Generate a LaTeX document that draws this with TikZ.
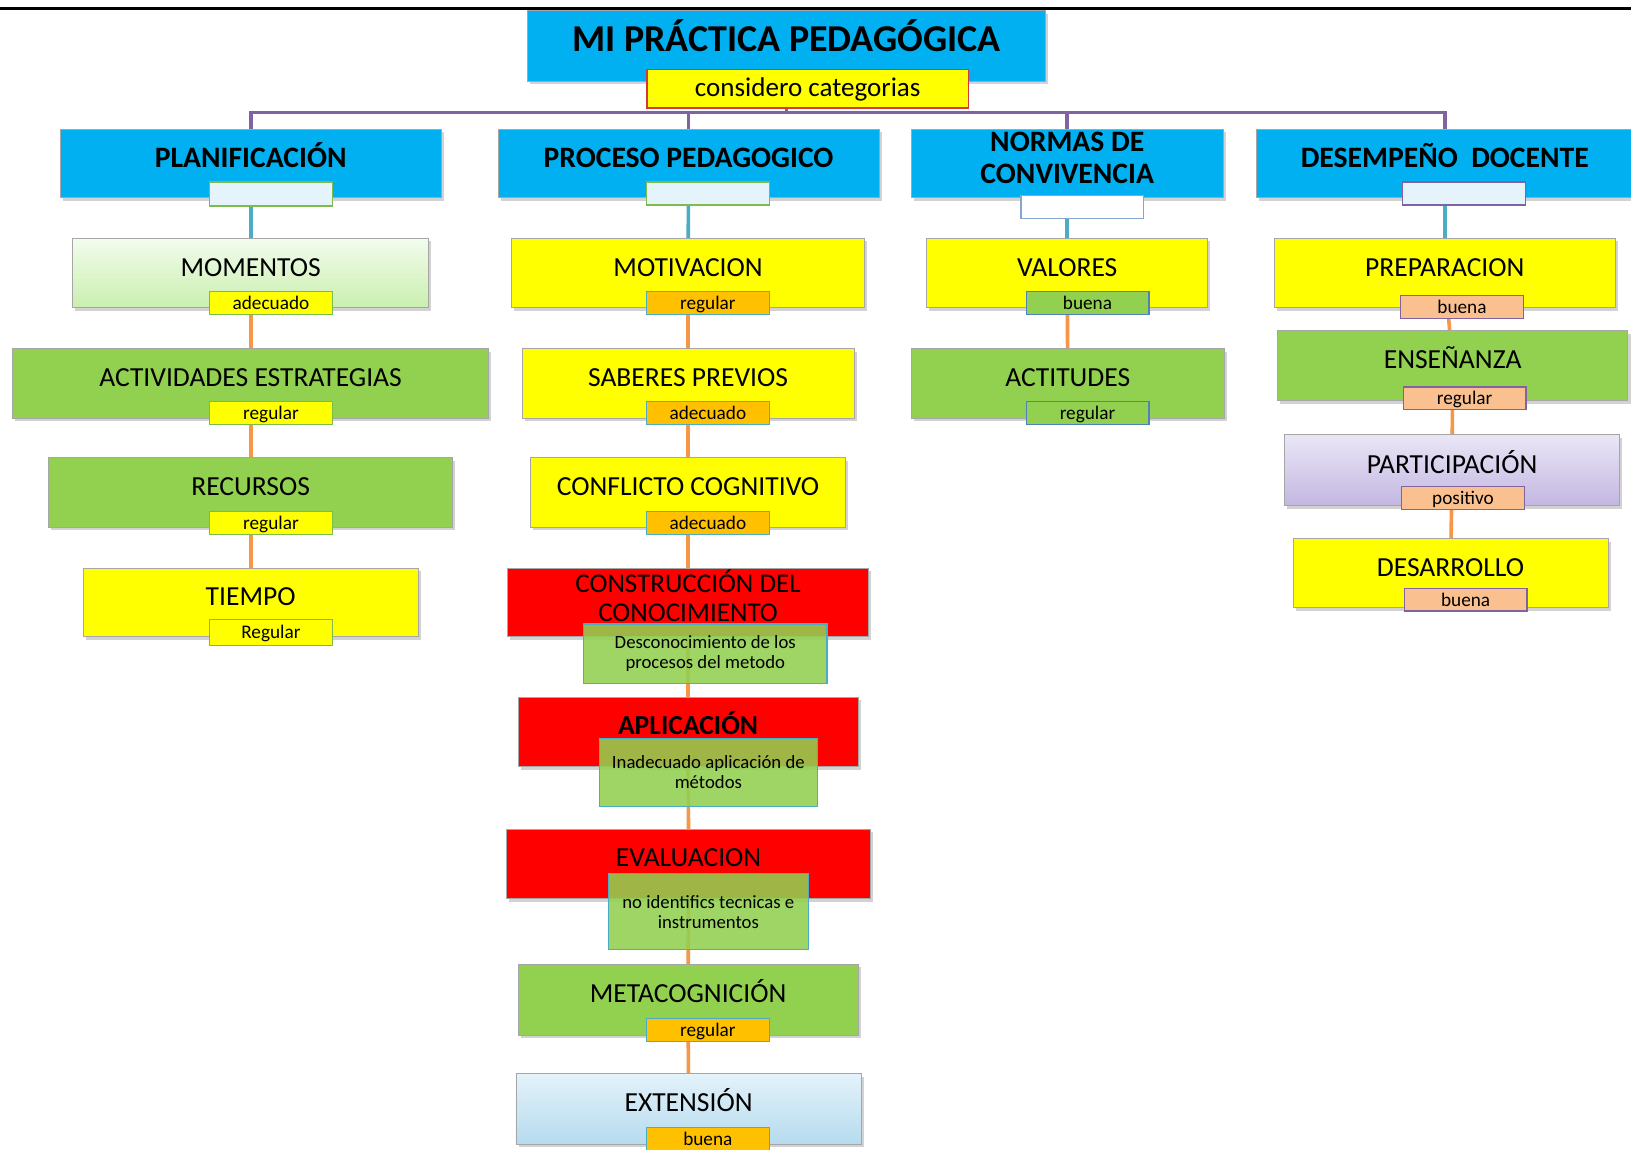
\documentclass[tikz,border=0pt]{standalone}
\usepackage{fontspec}
\setmainfont{Carlito}
\usetikzlibrary{shadows}
\pgfdeclarelayer{bg}
\pgfsetlayers{bg,main}
\definecolor{cblue}{HTML}{00B0F0}
\definecolor{cyel}{HTML}{FFFF00}
\definecolor{cgreen}{HTML}{92D050}
\definecolor{cred}{HTML}{FF0000}
\definecolor{corange}{HTML}{F79646}
\definecolor{cpurple}{HTML}{8064A2}
\definecolor{cteal}{HTML}{4BACC6}
\definecolor{camber}{HTML}{FFC000}
\definecolor{cpeach}{HTML}{FAC090}
\definecolor{cpale}{HTML}{E5F4FB}
\definecolor{cdblue}{HTML}{4F81BD}
\definecolor{cgbord}{HTML}{7DBB4C}
\definecolor{ccatbord}{HTML}{D23A3A}
\definecolor{mtop}{HTML}{F3FCEE}
\definecolor{mbot}{HTML}{C9EFAE}
\definecolor{etop}{HTML}{E4F2FA}
\definecolor{ebot}{HTML}{B5DBEE}
\definecolor{ptop}{HTML}{EAE6F6}
\definecolor{pbot}{HTML}{C3B7E1}
\begin{document}
\begin{tikzpicture}[x=1pt,y=-1pt,
  box/.style={draw=black!35, line width=0.8pt, drop shadow={shadow xshift=2.5pt,shadow yshift=-3pt,opacity=.35}, minimum height=67pt, inner sep=0pt, font=\fontsize{26.5}{30}\selectfont, text height=17.5pt, text depth=11.5pt},
  hdr/.style={box, fill=cblue, font=\bfseries\fontsize{28.5}{31}\selectfont, text height=18pt, text depth=10pt, minimum height=66pt},
  hdrtxt/.style={font=\bfseries\fontsize{28.5}{31}\selectfont, align=center, inner sep=0pt},
  boxtxt/.style={font=\fontsize{26}{27.5}\selectfont, align=center, inner sep=0pt},
  sbox/.style={draw, line width=1.2pt, minimum width=118pt, minimum height=22pt, inner sep=0pt},
  lab/.style={draw, line width=1.2pt, minimum width=118pt, minimum height=22pt, inner sep=0pt, font=\fontsize{18.5}{20}\selectfont, text height=14pt, text depth=1.5pt},
  lab1/.style={lab, fill=cyel, draw=cgbord},
  lab2/.style={lab, fill=camber, draw=cteal},
  lab3/.style={lab, fill=cgreen, draw=cdblue},
  lab4/.style={lab, fill=cpeach, draw=cpurple},
  over/.style={draw=cteal, line width=1.2pt, fill=cgreen, fill opacity=.88, text opacity=1, inner sep=0pt, align=center, font=\fontsize{18}{19.5}\selectfont},
  conn/.style={line width=3.5pt},
  pline/.style={conn, draw=cpurple},
  bline/.style={conn, draw=cteal},
  oline/.style={conn, draw=corange},
]
\useasboundingbox (0,0) rectangle (1568,1105);
\clip (0,0) rectangle (1568,1105);
\draw[line width=3pt] (0,8) -- (1568,8);

% title
\node[box, fill=cblue, minimum width=498pt, minimum height=68pt, font=\bfseries\fontsize{36.5}{40}\selectfont, text height=23pt, text depth=12pt] (title) at (756,44) {MI PRÁCTICA PEDAGÓGICA};
\node[draw=ccatbord, line width=1.5pt, fill=cyel, minimum width=309pt, minimum height=37pt, inner sep=0pt, font=\fontsize{26}{28}\selectfont, text height=18pt, text depth=3pt] (cat) at (776.5,85.5) {considero categorias};
\coordinate (bus) at (756,108);

% headers
\node[hdr, minimum width=366pt] (h1) at (241,157) {PLANIFICACIÓN};
\node[hdr, minimum width=366pt] (h2) at (662,157) {PROCESO PEDAGOGICO};
\node[hdr, minimum width=300pt] (h3) at (1026,157) {};
\node[hdrtxt] (h3t) at (1026,151.5) {NORMAS DE\\CONVIVENCIA};
\node[hdr, minimum width=362pt] (h4) at (1389,157) {DESEMPEÑO\ \ DOCENTE};

\node[sbox, fill=cpale, draw=cgbord, minimum height=23pt] (s1) at (260.5,186.5) {};
\node[sbox, fill=cpale, draw=cgbord] (s2) at (680.5,186) {};
\node[sbox, fill=white, draw=cdblue!70] (s3) at (1040.5,199) {};
\node[sbox, fill=cpale, draw=cpurple] (s4) at (1407.5,186) {};

% column 1
\node[box, top color=mtop, bottom color=mbot, minimum width=342pt] (m1) at (241,262.5) {MOMENTOS};
\node[lab1] (l11) at (260.5,291) {adecuado};
\node[box, fill=cgreen, minimum width=458pt] (m2) at (241,368.5) {ACTIVIDADES ESTRATEGIAS};
\node[lab1] (l12) at (260.5,397) {regular};
\node[box, fill=cgreen, minimum width=388pt] (m3) at (241,473.5) {RECURSOS};
\node[lab1] (l13) at (260.5,503) {regular};
\node[box, fill=cyel, minimum width=322pt, minimum height=66pt] (m4) at (241,579) {TIEMPO};
\node[lab1, minimum height=25pt] (l14) at (260.5,608) {Regular};

% column 2
\node[box, fill=cyel, minimum width=339pt] (p1) at (661.5,262.5) {MOTIVACION};
\node[lab2] (l21) at (680.5,291) {regular};
\node[box, fill=cyel, minimum width=319pt] (p2) at (661.5,368.5) {SABERES PREVIOS};
\node[lab2] (l22) at (680.5,397) {adecuado};
\node[box, fill=cyel, minimum width=303pt] (p3) at (661.5,473.5) {CONFLICTO COGNITIVO};
\node[lab2] (l23) at (680.5,503) {adecuado};
\node[box, fill=cred, minimum width=347pt, minimum height=66pt] (p4) at (661.5,579) {};
\node[boxtxt] (p4t) at (661.5,573) {CONSTRUCCIÓN DEL\\CONOCIMIENTO};
\node[over, minimum width=234pt, minimum height=57pt] (o4) at (678,628.5) {Desconocimiento de los\\procesos del metodo};
\node[box, fill=cred, minimum width=327pt, font=\bfseries\fontsize{26.5}{28}\selectfont] (p5) at (661.5,703.5) {APLICACIÓN};
\node[over, minimum width=210pt, minimum height=65pt] (o5) at (681,742.5) {Inadecuado aplicación de\\métodos};
\node[box, fill=cred, minimum width=350pt] (p6) at (662,830.5) {EVALUACION};
\node[over, minimum width=192pt, minimum height=73pt] (o6) at (681,876.5) {no identifics tecnicas e\\instrumentos};
\node[box, fill=cgreen, minimum width=327pt, minimum height=68pt] (p7) at (661.5,961) {METACOGNICIÓN};
\node[lab2] (l27) at (680.5,990) {regular};
\node[box, top color=etop, bottom color=ebot, minimum width=332pt, minimum height=68pt] (p8) at (662,1066) {EXTENSIÓN};
\node[lab2] (l28) at (680.5,1095) {buena};

% column 3
\node[box, fill=cyel, minimum width=270pt] (n1) at (1026,262.5) {VALORES};
\node[lab3] (l31) at (1045.5,291) {buena};
\node[box, fill=cgreen, minimum width=301pt] (n2) at (1026.5,368.5) {ACTITUDES};
\node[lab3] (l32) at (1045.5,397) {regular};

% column 4
\node[box, fill=cyel, minimum width=328pt] (d1) at (1389,262.5) {PREPARACION};
\node[lab4] (l41) at (1405.5,295) {buena};
\node[box, fill=cgreen, minimum width=337pt] (d2) at (1396.5,351.5) {ENSEÑANZA};
\node[lab4] (l42) at (1408,383) {regular};
\node[box, top color=ptop, bottom color=pbot, minimum width=322pt, minimum height=68pt] (d3) at (1396,452) {PARTICIPACIÓN};
\node[lab4] (l43) at (1406.5,479) {positivo};
\node[box, fill=cyel, minimum width=303pt, minimum height=66pt] (d4) at (1394.5,551) {DESARROLLO};
\node[lab4] (l44) at (1409,576.5) {buena};

\begin{pgfonlayer}{bg}
\fill[white] (0,0) rectangle (1568,1105);
\draw[pline] (title.center) -- (bus);
\draw[pline] (h1.north) |- (bus) -| (h4.north);
\draw[pline] (h2.north) |- (bus);
\draw[pline] (h3.north) |- (bus);
\draw[bline] (h1.center) -- (m1.center);
\draw[bline] (h2.center) -- (p1.center);
\draw[bline] (h3.center) -- (n1.center);
\draw[bline] (h4.center) -- (d1.center);
\draw[oline] (m1.center) -- (m2.center);
\draw[oline] (m2.center) -- (m3.center);
\draw[oline] (m3.center) -- (m4.center);
\draw[oline] (p1.center) -- (p2.center);
\draw[oline] (p2.center) -- (p3.center);
\draw[oline] (p3.center) -- (p4.center);
\draw[oline] (p4.center) -- (p5.center);
\draw[oline] (p5.center) -- (p6.center);
\draw[oline] (p6.center) -- (p7.center);
\draw[oline] (p7.center) -- (p8.center);
\draw[oline] (n1.center) -- (n2.center);
\draw[oline] (d1.center) -- (d2.center);
\draw[oline] (d2.center) -- (d3.center);
\draw[oline] (d3.center) -- (d4.center);
\end{pgfonlayer}
\end{tikzpicture}
\end{document}
